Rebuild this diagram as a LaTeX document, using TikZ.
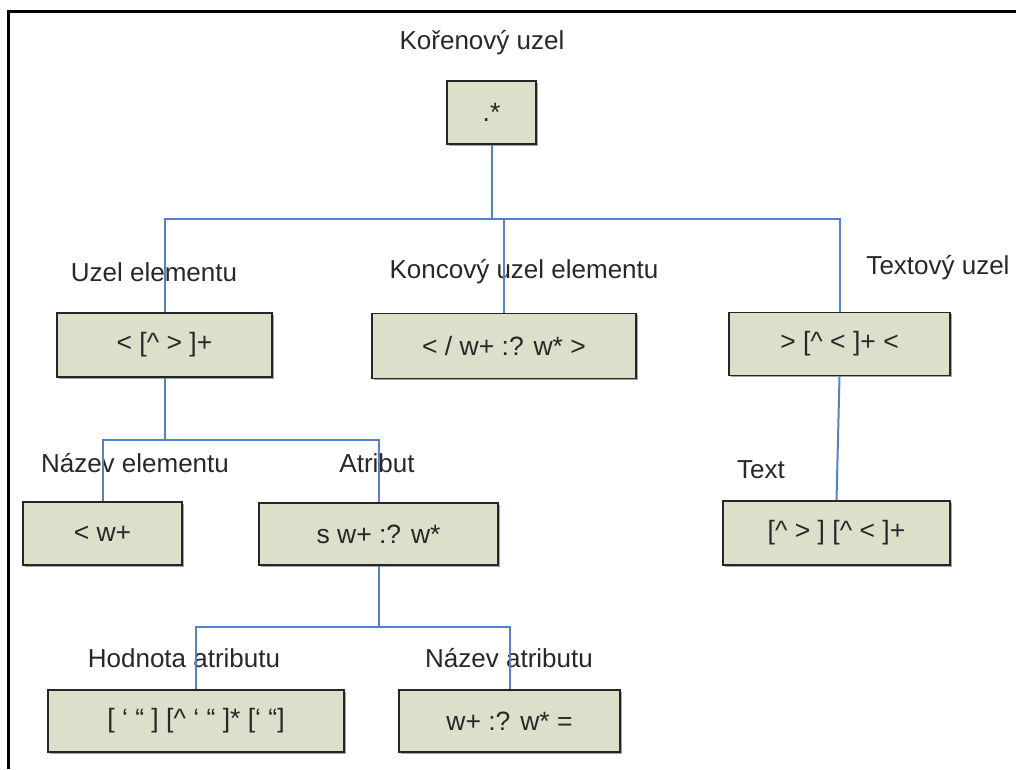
\documentclass[tikz,border=0pt]{standalone}
\usepackage{fontspec}
\setmainfont{Liberation Sans}
\usetikzlibrary{shadows}
\definecolor{linkblue}{RGB}{86,128,200}
\definecolor{boxfill}{RGB}{220,223,202}
\definecolor{labelgray}{RGB}{40,40,40}
\newcommand{\crt}{\textasciicircum}
\tikzset{
  regexbox/.style={draw=black!85, line width=1.6pt, fill=boxfill,
    drop shadow={shadow xshift=1.5pt, shadow yshift=-1.5pt, fill=black!45, opacity=0.8},
    inner sep=0pt, font=\fontsize{26.5}{31}\selectfont, text=labelgray},
  caption/.style={font=\fontsize{26}{31}\selectfont, text=labelgray, inner sep=0pt},
  link/.style={draw=linkblue, line width=2pt},
  frameline/.style={line width=3pt, black}
}
\begin{document}
\begin{tikzpicture}[x=1pt, y=-1pt]
  \useasboundingbox (0,0) rectangle (1016,769);
  \fill[white] (0,0) rectangle (1016,769);
  % frame edges (top and left)
  \draw[frameline] (1016,11) -- (8,11) -- (8,769);

  % captions
  \node[caption] (capRoot) at (482,43) {Kořenový uzel};
  \node[caption] (capElem) at (154,272) {Uzel elementu};
  \node[caption] (capEnd)  at (524,272) {Koncový uzel elementu};
  \node[caption] (capText) at (938,268) {Textový uzel};
  \node[caption] (capName) at (135,463) {Název elementu};
  \node[caption] (capAttr) at (377,463) {Atribut};
  \node[caption] (capTxt)  at (761,470) {Text};
  \node[caption] (capVal)  at (184,658) {Hodnota atributu};
  \node[caption] (capAName) at (509,658) {Název atributu};

  % regex boxes
  \node[regexbox, minimum width=89pt,  minimum height=63pt] (root)  at (491.5,112.5) {.*};
  \node[regexbox, minimum width=215pt, minimum height=64pt] (elem)  at (164.5,345) {< [\crt\ > ]+};
  \node[regexbox, minimum width=264pt, minimum height=65pt] (endel) at (504,346) {< / w+ :? w* >};
  \node[regexbox, minimum width=221pt, minimum height=63pt] (textn) at (839.5,344) {> [\crt\ < ]+ <};
  \node[regexbox, minimum width=159pt, minimum height=63pt] (name)  at (102.5,533.5) {< w+};
  \node[regexbox, minimum width=239pt, minimum height=62pt] (attr)  at (378.5,534) {s w+ :? w*};
  \node[regexbox, minimum width=227pt, minimum height=64pt] (txt)   at (836.5,533) {[\crt\ > ] [\crt\ < ]+};
  \node[regexbox, minimum width=296pt, minimum height=62pt] (val)   at (196,721) {[ ‘ “ ] [\crt\ ‘ “ ]* [‘ “]};
  \node[regexbox, minimum width=221pt, minimum height=62pt] (aname) at (509.5,721) {w+ :? w* =};

  % branch junctions
  \coordinate (barRoot) at (491.5,219);
  \coordinate (barElem) at (164.5,440);
  \coordinate (barAttr) at (378.5,627);

  % connectors
  \draw[link] (root.south) -- (barRoot);
  \draw[link] (elem.north) |- (barRoot) -| (textn.north);
  \draw[link] (endel.north) -- (endel.north |- barRoot);

  \draw[link] (elem.south) -- (barElem);
  \draw[link] (name.north) |- (barElem) -| (attr.north);

  \draw[link] (attr.south) -- (barAttr);
  \draw[link] (val.north) |- (barAttr) -| (aname.north);

  \draw[link] (textn.south) -- (txt.north);
\end{tikzpicture}
\end{document}
